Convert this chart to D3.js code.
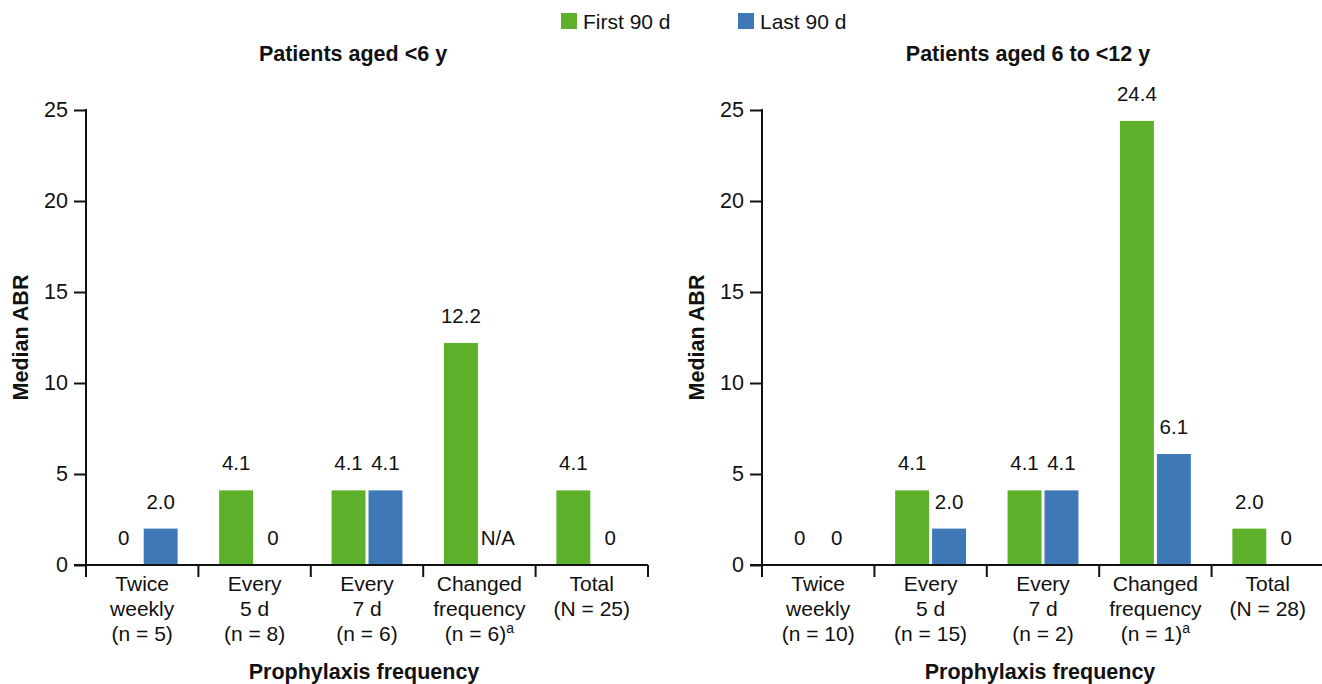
<!DOCTYPE html>
<html><head><meta charset="utf-8">
<script src="https://cdn.jsdelivr.net/npm/d3@7"></script>
<style>
body{margin:0;background:#fff;}
text{font-family:"Liberation Sans",Arial,Helvetica,sans-serif;fill:#111;}
</style></head>
<body>
<svg id="chart" width="1322" height="684"></svg>
<script>
const seriesNames = ["First 90 d", "Last 90 d"];
const seriesColors = ["#5DB12A", "#3E78B6"];

const panelTitles = ["Patients aged <6 y", "Patients aged 6 to <12 y"];

const categoriesLeft = [
  ["Twice", "weekly", "(n = 5)"],
  ["Every", "5 d", "(n = 8)"],
  ["Every", "7 d", "(n = 6)"],
  ["Changed", "frequency", "(n = 6)|a"],
  ["Total", "(N = 25)"]
];
const firstLeft = [0, 4.1, 4.1, 12.2, 4.1];
const lastLeft  = [2.0, 0, 4.1, null, 0];

const categoriesRight = [
  ["Twice", "weekly", "(n = 10)"],
  ["Every", "5 d", "(n = 15)"],
  ["Every", "7 d", "(n = 2)"],
  ["Changed", "frequency", "(n = 1)|a"],
  ["Total", "(N = 28)"]
];
const firstRight = [0, 4.1, 4.1, 24.4, 2.0];
const lastRight  = [0, 2.0, 4.1, 6.1, 0];

const yTicks = [0, 5, 10, 15, 20, 25];
const yTitle = "Median ABR";
const xTitle = "Prophylaxis frequency";

const svg = d3.select("#chart");

// Legend
const legendX = [561, 738];
seriesNames.forEach((name, i) => {
  svg.append("rect").attr("x", legendX[i]).attr("y", 13).attr("width", 16).attr("height", 16).attr("fill", seriesColors[i]);
  svg.append("text").attr("x", legendX[i] + 22).attr("y", 29).attr("font-size", 21).text(name);
});

function fmt(v) {
  if (v === null) return "N/A";
  if (v === 0) return "0";
  return v.toFixed(1);
}

function panel(opts) {
  const {x0, x1, cats, first, last, title, titleX, axisEnd} = opts;
  const y = d3.scaleLinear().domain([0, 25]).range([565, 110]);
  const x = d3.scaleBand().domain(d3.range(cats.length)).range([x0, x1]).padding(0);
  const g = svg.append("g");

  // heading
  g.append("text").attr("x", titleX).attr("y", 61).attr("text-anchor", "middle")
    .attr("font-size", 21.5).attr("font-weight", "bold").text(title);

  // bars
  const bw = x.bandwidth() * 0.302;
  const gap = 3;
  const data = [];
  cats.forEach((c, i) => {
    data.push({i, s: 0, v: first[i]});
    data.push({i, s: 1, v: last[i]});
  });
  const cx = d => x(d.i) + x.bandwidth() / 2;
  const bx = d => d.s === 0 ? cx(d) - gap / 2 - bw : cx(d) + gap / 2;
  g.selectAll("rect.bar").data(data.filter(d => d.v !== null && d.v > 0)).join("rect")
    .attr("class", "bar")
    .attr("x", bx).attr("width", bw)
    .attr("y", d => y(d.v)).attr("height", d => y(0) - y(d.v))
    .attr("fill", d => seriesColors[d.s]);
  g.selectAll("text.val").data(data).join("text")
    .attr("class", "val")
    .attr("x", d => bx(d) + bw / 2)
    .attr("y", d => y(d.v === null ? 0 : d.v) - 20)
    .attr("text-anchor", "middle").attr("font-size", 20.5)
    .text(d => fmt(d.v));

  // y axis
  const ya = g.append("g").attr("transform", `translate(${x0},0)`)
    .call(d3.axisLeft(y).tickValues(yTicks).tickSize(12).tickPadding(6).tickSizeOuter(0));
  ya.select(".domain").remove();
  ya.selectAll(".tick line").attr("stroke", "#111").attr("stroke-width", 2);
  ya.selectAll(".tick text").attr("font-size", 21.5).attr("font-family", "Liberation Sans, Arial, sans-serif").attr("fill", "#111");
  g.append("line").attr("x1", x0).attr("x2", x0).attr("y1", y(25) - 1).attr("y2", 577)
    .attr("stroke", "#111").attr("stroke-width", 2);

  // x axis baseline and boundary ticks
  g.append("line").attr("x1", x0 - 12).attr("x2", axisEnd).attr("y1", y(0)).attr("y2", y(0))
    .attr("stroke", "#111").attr("stroke-width", 2);
  const bounds = d3.range(cats.length + 1).map(i => i < cats.length ? x(i) : x1).filter(b => b > x0 && b < 1322);
  g.selectAll("line.bt").data(bounds).join("line").attr("class", "bt")
    .attr("x1", d => d).attr("x2", d => d).attr("y1", y(0)).attr("y2", 577)
    .attr("stroke", "#111").attr("stroke-width", 2);

  // category labels
  cats.forEach((lines, i) => {
    const t = g.append("text").attr("x", x(i) + x.bandwidth() / 2).attr("y", 591)
      .attr("text-anchor", "middle").attr("font-size", 21);
    lines.forEach((ln, k) => {
      const parts = ln.split("|");
      t.append("tspan").attr("x", x(i) + x.bandwidth() / 2).attr("dy", k === 0 ? 0 : 25).text(parts[0]);
      if (parts[1]) {
        t.append("tspan").attr("font-size", 14).attr("dy", -8).text(parts[1]);
      }
    });
  });

  // axis titles
  g.append("text").attr("x", (x0 + x1) / 2 - 3).attr("y", 679).attr("text-anchor", "middle")
    .attr("font-size", 21.5).attr("font-weight", "bold").text(xTitle);
  g.append("text").attr("transform", `translate(${x0 - 58},${(y(0) + y(25)) / 2}) rotate(-90)`)
    .attr("text-anchor", "middle").attr("font-size", 21.5).attr("font-weight", "bold").text(yTitle);
}

panel({x0: 86, x1: 648, cats: categoriesLeft, first: firstLeft, last: lastLeft, title: panelTitles[0], titleX: 353, axisEnd: 648});
panel({x0: 762, x1: 1324, cats: categoriesRight, first: firstRight, last: lastRight, title: panelTitles[1], titleX: 1028, axisEnd: 1322});
</script>
</body></html>
